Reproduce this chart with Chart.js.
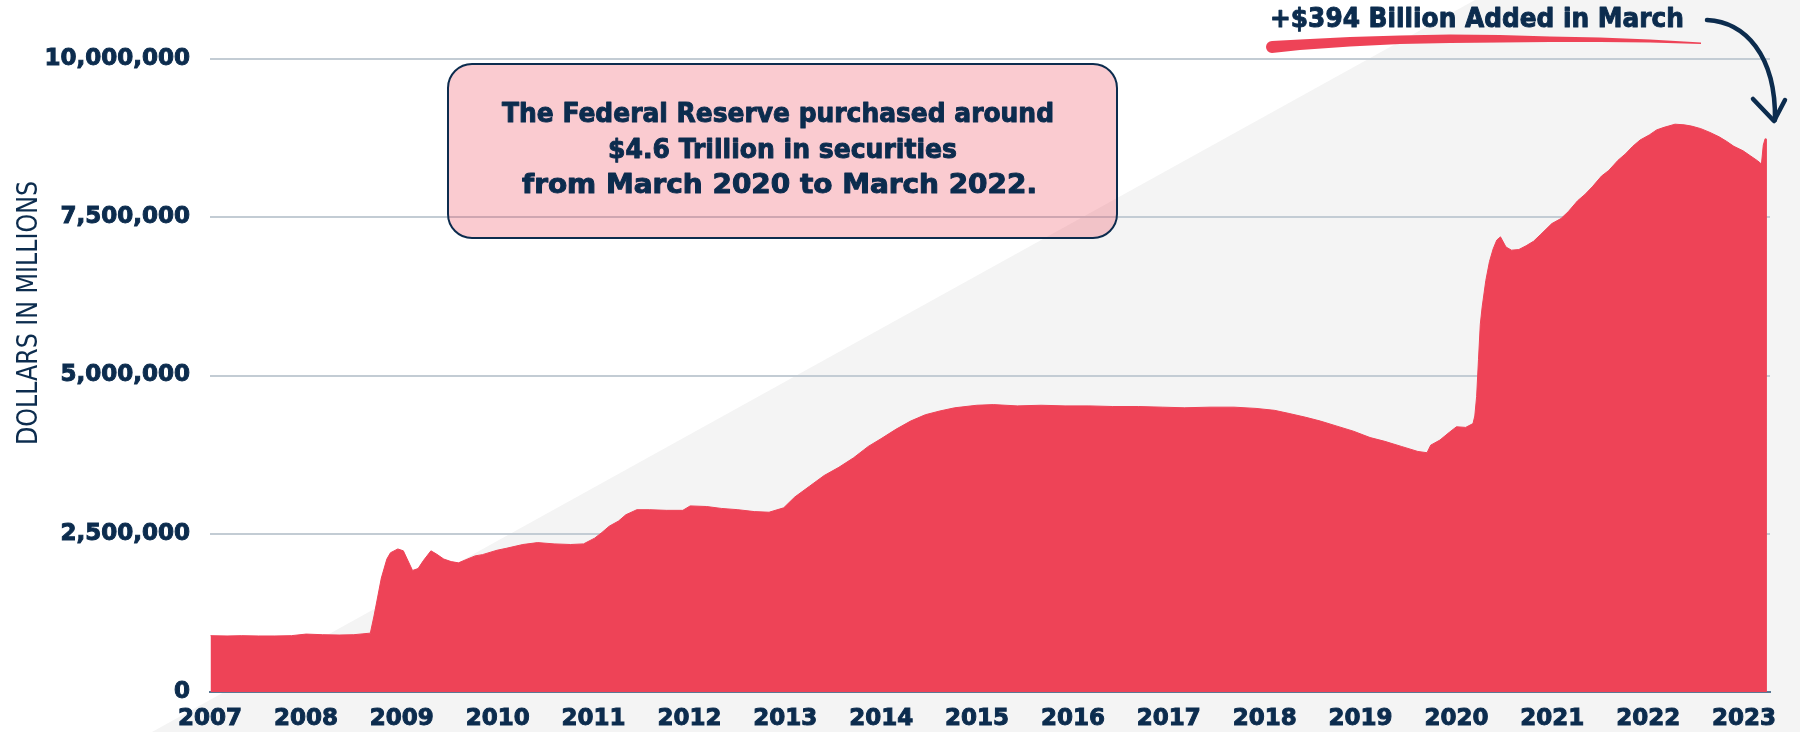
<!DOCTYPE html>
<html>
<head>
<meta charset="utf-8">
<script src="https://cdn.jsdelivr.net/npm/chart.js@4.4.1/dist/chart.umd.min.js"></script>
<style>
  html, body { margin: 0; padding: 0; background: #fff; }
  #wrap { width: 1800px; height: 732px; position: relative; }
</style>
</head>
<body>
<div id="wrap"><canvas id="fed"></canvas></div>
<script>
// Fed total assets, millions of dollars
const dates = [
  '2007-01-03', '2007-03-07', '2007-05-02', '2007-07-04', '2007-09-05', '2007-11-07',
  '2008-01-02', '2008-03-05', '2008-05-07', '2008-07-02', '2008-09-03', '2008-09-17',
  '2008-10-01', '2008-10-15', '2008-11-05', '2008-11-19', '2008-12-17',
  '2009-01-07', '2009-02-11', '2009-03-04', '2009-03-25', '2009-04-22', '2009-05-13',
  '2009-06-10', '2009-07-08', '2009-08-05', '2009-09-02', '2009-10-07', '2009-11-04', '2009-12-30',
  '2010-02-03', '2010-04-07', '2010-06-02', '2010-08-04', '2010-10-06', '2010-11-24',
  '2011-01-05', '2011-02-02', '2011-03-02', '2011-04-06', '2011-05-04', '2011-06-15',
  '2011-08-03', '2011-10-05', '2011-12-07',
  '2012-01-04', '2012-03-07', '2012-05-02', '2012-07-04', '2012-09-05', '2012-10-31', '2012-12-26',
  '2013-02-06', '2013-04-03', '2013-05-29', '2013-07-24', '2013-09-18', '2013-11-13', '2013-12-31',
  '2014-02-26', '2014-04-23', '2014-06-18', '2014-08-13', '2014-10-08', '2014-12-31',
  '2015-03-04', '2015-06-03', '2015-09-02', '2015-12-02',
  '2016-03-02', '2016-06-01', '2016-09-07', '2016-12-07',
  '2017-03-01', '2017-06-07', '2017-09-06', '2017-11-29',
  '2018-02-07', '2018-04-04', '2018-06-06', '2018-08-01', '2018-10-03', '2018-12-05',
  '2019-02-06', '2019-04-03', '2019-06-05', '2019-08-07', '2019-09-11', '2019-09-25',
  '2019-10-30', '2019-12-04',
  '2020-01-01', '2020-02-05', '2020-03-04', '2020-03-11', '2020-03-18', '2020-03-25',
  '2020-04-01', '2020-04-08', '2020-04-22', '2020-05-06', '2020-05-20', '2020-06-03',
  '2020-06-17', '2020-07-08', '2020-07-29', '2020-08-26', '2020-09-23', '2020-10-21',
  '2020-11-18', '2020-12-30',
  '2021-02-03', '2021-03-03', '2021-04-07', '2021-05-05', '2021-06-02', '2021-07-07',
  '2021-08-04', '2021-09-08', '2021-10-06', '2021-11-03', '2021-12-01',
  '2022-01-05', '2022-02-02', '2022-03-02', '2022-04-13', '2022-05-18', '2022-06-15',
  '2022-07-20', '2022-08-24', '2022-09-28', '2022-10-26', '2022-11-23', '2022-12-28',
  '2023-01-25', '2023-02-22', '2023-03-08', '2023-03-15', '2023-03-22', '2023-03-29'
];
const totalAssets = [
  890000, 885000, 890000, 885000, 885000, 890000,
  915000, 905000, 900000, 905000, 930000, 1200000,
  1500000, 1800000, 2100000, 2200000, 2260000,
  2230000, 1920000, 1950000, 2080000, 2230000, 2180000,
  2100000, 2060000, 2040000, 2090000, 2150000, 2170000, 2240000,
  2270000, 2330000, 2360000, 2340000, 2330000, 2340000,
  2430000, 2520000, 2620000, 2700000, 2800000, 2880000,
  2880000, 2870000, 2870000,
  2940000, 2930000, 2900000, 2880000, 2850000, 2840000, 2910000,
  3080000, 3250000, 3420000, 3550000, 3700000, 3880000, 4000000,
  4150000, 4280000, 4380000, 4440000, 4490000, 4530000,
  4540000, 4520000, 4530000, 4520000,
  4520000, 4510000, 4510000, 4500000,
  4490000, 4500000, 4500000, 4480000,
  4450000, 4400000, 4340000, 4280000, 4200000, 4120000,
  4020000, 3960000, 3880000, 3800000, 3780000, 3900000,
  3980000, 4100000,
  4190000, 4180000, 4240000, 4360000, 4670000, 5250000,
  5810000, 6080000, 6500000, 6800000, 7000000, 7140000,
  7190000, 7030000, 6980000, 6990000, 7050000, 7120000,
  7230000, 7400000,
  7480000, 7590000, 7760000, 7860000, 7980000, 8150000,
  8240000, 8400000, 8500000, 8620000, 8720000,
  8800000, 8880000, 8920000, 8970000, 8960000, 8940000,
  8900000, 8840000, 8770000, 8700000, 8620000, 8550000,
  8470000, 8390000, 8340000, 8640000, 8740000, 8730000
];
const yearLabels = [2007, 2008, 2009, 2010, 2011, 2012, 2013, 2014, 2015,
  2016, 2017, 2018, 2019, 2020, 2021, 2022, 2023];

const NAVY = '#0c2c4e';
const RED = '#ee4357';

function toYear(s) {
  const d = new Date(s + 'T00:00:00Z');
  const y = d.getUTCFullYear();
  const start = Date.UTC(y, 0, 1), end = Date.UTC(y + 1, 0, 1);
  return y + (d.getTime() - start) / (end - start);
}

// draws text stretched/squeezed to a given width, left edge at x
function fitText(ctx, text, x, y, width, font, stroke) {
  ctx.font = font;
  const w = ctx.measureText(text).width;
  ctx.save();
  ctx.translate(x, y);
  ctx.scale(width / w, 1);
  ctx.textAlign = 'left';
  ctx.textBaseline = 'alphabetic';
  ctx.fillText(text, 0, 0);
  if (stroke) {
    ctx.strokeStyle = ctx.fillStyle;
    ctx.lineWidth = stroke;
    ctx.lineJoin = 'round';
    ctx.strokeText(text, 0, 0);
  }
  ctx.restore();
}

const decor = {
  id: 'decor',
  beforeDraw(chart) {
    const ctx = chart.ctx;
    ctx.save();
    ctx.fillStyle = '#ffffff';
    ctx.fillRect(0, 0, chart.width, chart.height);
    ctx.fillStyle = '#f4f4f4';
    ctx.beginPath();
    ctx.moveTo(1475, 0);
    ctx.lineTo(1800, 0);
    ctx.lineTo(1800, 732);
    ctx.lineTo(152, 732);
    ctx.closePath();
    ctx.fill();
    ctx.restore();
  },
  afterDraw(chart) {
    const ctx = chart.ctx;
    ctx.save();

    // note box
    ctx.beginPath();
    ctx.roundRect(448, 64, 669, 174, 24);
    ctx.fillStyle = 'rgba(238, 67, 87, 0.28)';
    ctx.fill();
    ctx.lineWidth = 2;
    ctx.strokeStyle = NAVY;
    ctx.stroke();

    ctx.fillStyle = NAVY;
    const boxFont = 'bold 26px "DejaVu Sans"';
    fitText(ctx, 'The Federal Reserve purchased around', 502, 122, 552, boxFont, 1);
    fitText(ctx, '$4.6 Trillion in securities', 608, 157.5, 349, boxFont, 1);
    fitText(ctx, 'from March 2020 to March 2022.', 522, 193, 515, boxFont, 1);

    // top-right callout
    fitText(ctx, '+$394 Billion Added in March', 1270, 27, 414, 'bold 27px "DejaVu Sans"', 1);

    // brush underline
    ctx.fillStyle = RED;
    ctx.beginPath();
    const top = [[1272, 41], [1300, 39.5], [1350, 37], [1400, 35.5], [1450, 34.5], [1500, 35],
      [1550, 36.5], [1600, 37.5], [1650, 39.5], [1701, 42.5]];
    const bot = [[1701, 44], [1650, 42.5], [1600, 42], [1550, 42], [1500, 42.5], [1450, 43],
      [1400, 44], [1350, 46.5], [1300, 50], [1272, 53]];
    ctx.moveTo(top[0][0], top[0][1]);
    top.forEach(p => ctx.lineTo(p[0], p[1]));
    bot.forEach(p => ctx.lineTo(p[0], p[1]));
    ctx.arc(1272, 47, 6, Math.PI / 2, Math.PI * 1.5);
    ctx.closePath();
    ctx.fill();

    // arrow
    ctx.strokeStyle = NAVY;
    ctx.lineCap = 'round';
    ctx.lineJoin = 'round';
    ctx.lineWidth = 4.5;
    ctx.beginPath();
    ctx.moveTo(1707, 20);
    ctx.bezierCurveTo(1745, 22, 1776, 55, 1775, 120);
    ctx.stroke();
    ctx.beginPath();
    ctx.moveTo(1753, 99);
    ctx.lineTo(1774, 121);
    ctx.lineTo(1785, 100);
    ctx.stroke();

    // y axis title
    ctx.fillStyle = NAVY;
    ctx.translate(37, 445);
    ctx.rotate(-Math.PI / 2);
    fitText(ctx, 'DOLLARS IN MILLIONS', 0, 0, 264, '29px "DejaVu Sans"');

    ctx.restore();
  }
};

new Chart(document.getElementById('fed').getContext('2d'), {
  type: 'line',
  data: {
    datasets: [{
      label: 'Total assets',
      data: dates.map((d, i) => ({ x: toYear(d), y: totalAssets[i] })),
      backgroundColor: RED,
      borderColor: RED,
      borderWidth: 1,
      pointRadius: 0,
      fill: 'origin',
      tension: 0
    }]
  },
  options: {
    responsive: true,
    maintainAspectRatio: false,
    animation: false,
    layout: { padding: { left: 0, right: 30, top: 59, bottom: 0 } },
    plugins: { legend: { display: false }, tooltip: { enabled: false } },
    scales: {
      x: {
        type: 'linear',
        min: 2007,
        max: 2023.27,
        afterBuildTicks: (s) => { s.ticks = yearLabels.map(v => ({ value: v })); },
        afterFit: (s) => { s.height = 40; },
        grid: { display: false, drawTicks: false },
        border: { display: true, color: '#5a7894', width: 2 },
        ticks: {
          autoSkip: false, maxRotation: 0, padding: 13,
          color: NAVY,
          textStrokeColor: NAVY,
          textStrokeWidth: 1,
          font: { family: 'DejaVu Sans', weight: 'bold', size: 23 },
          callback: (v) => String(v)
        }
      },
      y: {
        min: 0,
        max: 10000000,
        afterFit: (s) => { s.width = 210; },
        grid: {
          drawTicks: false,
          lineWidth: 2,
          color: (c) => c.tick && c.tick.value === 0 ? 'rgba(0,0,0,0)' : '#c3ccd4'
        },
        border: { display: false },
        ticks: {
          stepSize: 2500000, padding: 20,
          color: NAVY,
          textStrokeColor: NAVY,
          textStrokeWidth: 1,
          font: { family: 'DejaVu Sans', weight: 'bold', size: 23 },
          callback: (v) => v.toLocaleString('en-US')
        }
      }
    }
  },
  plugins: [decor]
});
</script>
</body>
</html>
